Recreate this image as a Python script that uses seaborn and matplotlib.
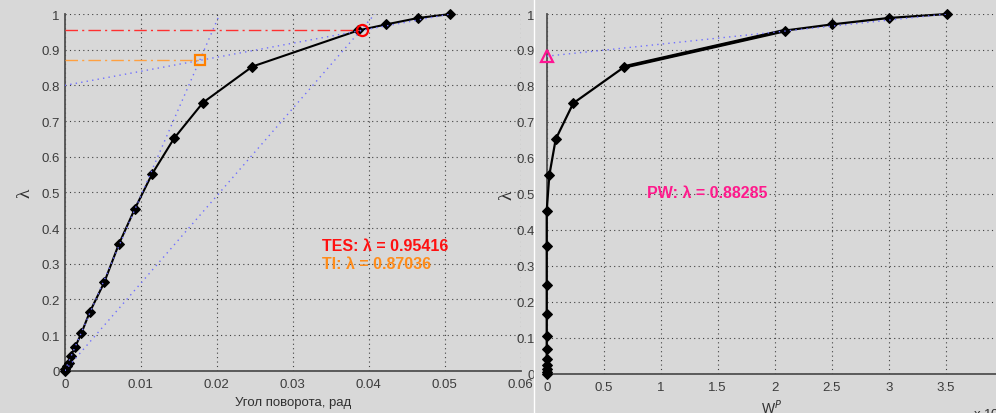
import matplotlib
matplotlib.use("Agg")
import matplotlib.pyplot as plt
from matplotlib.ticker import FuncFormatter, MultipleLocator, FixedLocator
from matplotlib.lines import Line2D
import seaborn as sns

# ── data ──────────────────────────────────────────────────────
lam = [0, 0.005, 0.014, 0.023, 0.042, 0.068, 0.106, 0.165, 0.248, 0.354,
       0.453, 0.552, 0.652, 0.752, 0.853, 0.954, 0.971, 0.989, 1.0]
angle = [0, 0.0001, 0.0003, 0.0005, 0.0008, 0.0014, 0.0022, 0.0033, 0.0052, 0.0071,
         0.0092, 0.0115, 0.0144, 0.0182, 0.0247, 0.0386, 0.0423, 0.0465, 0.0507]
wp = [0, 0, 0, 0, 0, 0, 0, 0, 0, 0,
      0, 0.023, 0.079, 0.233, 0.681, 2.09, 2.5, 3.0, 3.51]
wp_ticks = [0, 0.5, 1, 1.5, 2, 2.5, 3, 3.5]

# construction lines
init_tan_x, init_tan_y = [0, 0.0204], [0, 1.0]
tes_ray_x, tes_ray_y = [0, 0.0408], [0, 1.0]
fin_tan_x, fin_tan_y = [0, 0.0507], [0.8, 1.0]
pw_line_w, pw_line_y = [0, 3.51], [0.88285, 1.0]

# results
tes_x, tes_val = 0.0391, 0.95416
ti_x, ti_val = 0.01776, 0.87036
pw_w, pw_val = 0.0, 0.88285

# ── style ─────────────────────────────────────────────────────
BG = "#d8d8d8"
AXC = "#505050"
sns.set_style("white")
plt.rcParams["font.family"] = ["Liberation Sans", "DejaVu Sans"]

fig = plt.figure(figsize=(9.96, 4.14), dpi=100, facecolor=BG)
ax1 = fig.add_axes([0.065, 0.102, 0.4578, 0.8616])
ax2 = fig.add_axes([0.5489, 0.0949, 0.4578, 0.8688])

fmt = FuncFormatter(lambda v, p: "%g" % round(v, 6))
for ax, ypad in [(ax1, 3.5), (ax2, 8.5)]:
    ax.set_facecolor(BG)
    for s in ["top", "right"]:
        ax.spines[s].set_visible(False)
    for s in ["left", "bottom"]:
        ax.spines[s].set_color(AXC)
        ax.spines[s].set_linewidth(1.3)
    ax.set_axisbelow(True)
    ax.grid(True, linestyle=(0, (1, 3)), color="#404040", lw=0.8)
    ax.tick_params(direction="in", length=4, color=AXC, labelcolor="#3c3c3c",
                   labelsize=9.5)
    ax.tick_params(axis="y", pad=ypad)
    ax.tick_params(axis="x", pad=5)
    ax.xaxis.set_major_formatter(fmt)
    ax.yaxis.set_major_formatter(fmt)
    ax.set_ylim(0, 1)
    ax.yaxis.set_major_locator(MultipleLocator(0.1))
    ax.set_ylabel("λ", fontsize=14, family=["Liberation Serif", "DejaVu Serif"],
                  color="#303030", va="center")
    ax.yaxis.set_label_coords(-0.087, 0.5)

# ── left: angle of rotation ───────────────────────────────────
ax1.set_xlim(0, 0.06)
ax1.xaxis.set_major_locator(MultipleLocator(0.01))

sns.lineplot(x=angle, y=lam, ax=ax1, sort=False, estimator=None, color="black",
             lw=1.5, marker="D", markersize=5, markeredgecolor="black",
             clip_on=False, zorder=3)

blue = "#6f6fff"
for xs, ys in [(init_tan_x, init_tan_y), (tes_ray_x, tes_ray_y), (fin_tan_x, fin_tan_y)]:
    ax1.plot(xs, ys, color=blue, lw=1.0, linestyle=(0, (1, 3)), zorder=4)

ax1.plot([0, tes_x], [tes_val, tes_val], color="#ff3030", lw=1.0,
         linestyle=(0, (9, 3, 1.5, 3)), zorder=4)
ax1.plot([0, ti_x], [ti_val, ti_val], color="#ffa040", lw=1.0,
         linestyle=(0, (9, 3, 1.5, 3)), zorder=4)
ax1.plot([tes_x], [tes_val], marker="o", ms=8, mfc="none", mec="#ff0000", mew=1.6,
         zorder=5)
ax1.plot([ti_x], [ti_val], marker="s", ms=7.5, mfc="none", mec="#ff8000", mew=1.6,
         zorder=5)

ax1.text(0.0338, 0.350, "TES: λ = %.5f" % tes_val, color="#ff1010", fontsize=11.5,
         weight="bold", va="center")
ax1.text(0.0338, 0.302, "TI: λ = %.5f" % ti_val, color="#ff8c1a", fontsize=11.5,
         weight="bold", va="center")

ax1.set_xlabel("Угол поворота, рад", fontsize=9.5, color="#303030", va="top")
ax1.xaxis.set_label_coords(0.5, -0.071)

# ── right: plastic work ───────────────────────────────────────
ax2.set_xlim(0, 4)
ax2.xaxis.set_major_locator(FixedLocator(wp_ticks))

sns.lineplot(x=wp, y=lam, ax=ax2, sort=False, estimator=None, color="black",
             lw=1.6, marker="D", markersize=5, markeredgecolor="black",
             clip_on=False, zorder=3)
ax2.plot(wp[14:16], lam[14:16], color="black", lw=2.6, zorder=3)
ax2.plot(pw_line_w, pw_line_y, color=blue, lw=1.0, linestyle=(0, (1, 3)), zorder=4)
ax2.plot([pw_w], [pw_val], marker="^", ms=9, mfc="none", mec="#ff1493", mew=1.6,
         clip_on=False, zorder=5)

ax2.text(0.88, 0.505, "PW: λ = %.5f" % pw_val, color="#ff1a8c", fontsize=11.5,
         weight="bold", va="center")

ax2.set_xlabel("W$^P$", fontsize=10, color="#303030", va="top")
ax2.xaxis.set_label_coords(0.494, -0.065)
fig.text(973 / 996, 0.0193, "x 10$^{4}$", fontsize=9.5, color="#303030", va="top")

# seam between the two panels
fig.add_artist(Line2D([533.5 / 996] * 2, [0, 1], color="white", lw=1.0,
                      transform=fig.transFigure))

fig.savefig("out.png", dpi=100, facecolor=BG)
